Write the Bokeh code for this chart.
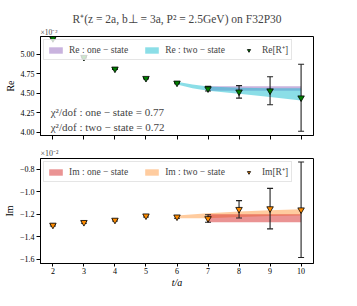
from bokeh.plotting import figure
from bokeh.layouts import column
from bokeh.models import (ColumnDataSource, Legend, LegendItem, Label, Title,
                          FixedTicker, Range1d, CustomJSTickFormatter)
from bokeh.embed import file_html
from bokeh.resources import INLINE

# ---------------- data (values in units of 1e-2) ----------------
t = [2, 3, 4, 5, 6, 7, 8, 9, 10]
re_val = [5.20, 4.96, 4.81, 4.69, 4.63, 4.556, 4.516, 4.53, 4.44]
re_err = [0.01, 0.008, 0.008, 0.008, 0.01, 0.03, 0.08, 0.18, 0.43]
im_val = [-1.296, -1.272, -1.252, -1.214, -1.223, -1.238, -1.156, -1.15, -1.16]
im_err = [0.008, 0.008, 0.008, 0.01, 0.012, 0.033, 0.077, 0.18, 0.425]

re_one_t = [7, 10]
re_one_lo = [4.53, 4.53]
re_one_hi = [4.587, 4.587]
re_two_t = [6, 6.5, 7, 8, 9, 10]
re_two_lo = [4.61, 4.563, 4.53, 4.49, 4.45, 4.405]
re_two_hi = [4.645, 4.61, 4.585, 4.568, 4.563, 4.562]

im_one_t = [7, 10]
im_one_lo = [-1.272, -1.272]
im_one_hi = [-1.20, -1.20]
im_two_t = [6, 7, 8, 9, 10]
im_two_lo = [-1.235, -1.235, -1.225, -1.215, -1.21]
im_two_hi = [-1.212, -1.19, -1.175, -1.165, -1.155]

x_ticks = [2, 3, 4, 5, 6, 7, 8, 9, 10]
re_ticks = [4.00, 4.25, 4.50, 4.75, 5.00]
im_ticks = [-1.6, -1.4, -1.2, -1.0, -0.8]

title_text = "R\u207a(z = 2a, b\u22a5 = 3a, P\u00b2 = 2.5GeV) on F32P30"
offset_text = "\u00d710\u207b\u00b2"
chi_one = "\u03c7\u00b2/dof : one \u2212 state = 0.77"
chi_two = "\u03c7\u00b2/dof : two \u2212 state = 0.72"

FONT = "Liberation Serif"


def style(p, yticks, fmt_digits, show_x_labels):
    p.grid.visible = False
    p.outline_line_color = "black"
    p.outline_line_alpha = 1
    for ax in (p.xaxis, p.yaxis):
        ax.major_tick_out = 4
        ax.major_tick_in = 0
        ax.minor_tick_out = 0
        ax.minor_tick_in = 0
        ax.axis_line_color = "black"
        ax.major_tick_line_color = "black"
        ax.major_label_text_font = FONT
        ax.major_label_text_font_size = "8px"
        ax.major_label_text_color = "black"
        ax.axis_label_text_font = FONT
        ax.axis_label_text_font_size = "10px"
        ax.axis_label_text_color = "black"
        ax.major_label_standoff = 2
    p.xaxis.ticker = FixedTicker(ticks=x_ticks)
    p.yaxis.ticker = FixedTicker(ticks=yticks)
    p.yaxis.formatter = CustomJSTickFormatter(
        code="return tick.toFixed(%d).replace('-', '\\u2212');" % fmt_digits)
    p.yaxis.axis_label_text_font_style = "normal"
    p.yaxis.axis_label_standoff = 2
    if not show_x_labels:
        p.xaxis.formatter = CustomJSTickFormatter(code="return '';")
        p.xaxis.major_label_standoff = 0


def draw_points(p, vals, errs, fill):
    lo = [v - e for v, e in zip(vals, errs)]
    hi = [v + e for v, e in zip(vals, errs)]
    src = ColumnDataSource(dict(t=t, v=vals, lo=lo, hi=hi))
    p.segment("t", "lo", "t", "hi", source=src, line_color="#222222", line_width=1.1)
    p.scatter("t", "lo", source=src, marker="dash", size=6, line_color="#222222", line_width=1.1)
    p.scatter("t", "hi", source=src, marker="dash", size=6, line_color="#222222", line_width=1.1)
    r = p.scatter("t", "v", source=src, marker="inverted_triangle", size=6.5,
                  fill_color=fill, line_color="black", line_width=0.8)
    return r


def make_legend(p, items):
    leg = Legend(items=items, location="top_left", orientation="horizontal",
                 label_text_font=FONT, label_text_font_size="9.5px",
                 glyph_width=17, glyph_height=8, label_height=9, label_standoff=5,
                 spacing=15, padding=3, margin=3,
                 background_fill_alpha=0.8, border_line_color="#cccccc")
    p.add_layout(leg)


# ---------------- top panel ----------------
p1 = figure(width=340, height=146,
            x_range=Range1d(1.6, 10.4), y_range=Range1d(3.956, 5.226),
            output_backend="svg", toolbar_location=None,
            min_border_left=37, min_border_right=27, min_border_top=0, min_border_bottom=11)
style(p1, re_ticks, 2, False)
p1.yaxis.axis_label = "Re"
# a blank first line pushes the title down towards the frame
p1.title.text = " \n" + title_text
p1.title.text_line_height = 0.9
p1.title.align = "center"
p1.title.offset = -5
p1.title.text_font = FONT
p1.title.text_font_size = "11.5px"
p1.title.text_font_style = "normal"
p1.title.standoff = 0
p1.add_layout(Title(text=offset_text, align="left", text_font=FONT, standoff=0,
                    text_font_size="7.5px", text_font_style="normal"), "above")

r_one = p1.varea(x=re_one_t, y1=re_one_lo, y2=re_one_hi, fill_color="#9467bd", fill_alpha=0.5)
r_two = p1.varea(x=re_two_t, y1=re_two_lo, y2=re_two_hi, fill_color="#17becf", fill_alpha=0.5)
r_pts = draw_points(p1, re_val, re_err, "green")
make_legend(p1, [LegendItem(label="Re : one \u2212 state", renderers=[r_one]),
                 LegendItem(label="Re : two \u2212 state", renderers=[r_two]),
                 LegendItem(label="Re[R\u207a]", renderers=[r_pts])])
p1.add_layout(Label(x=1.93, y=4.254, text=chi_one, text_font=FONT,
                    text_font_size="11px", text_baseline="middle"))
p1.add_layout(Label(x=1.93, y=4.063, text=chi_two, text_font=FONT,
                    text_font_size="11px", text_baseline="middle"))

# ---------------- bottom panel ----------------
p2 = figure(width=340, height=144,
            x_range=p1.x_range, y_range=Range1d(-1.638, -0.704),
            output_backend="svg", toolbar_location=None,
            min_border_left=37, min_border_right=27, min_border_top=11, min_border_bottom=26)
style(p2, im_ticks, 1, True)
p2.xaxis.major_tick_out = 3
p2.xaxis.major_label_standoff = 1
p2.yaxis.axis_label = "Im"
p2.xaxis.axis_label = "t/a"
p2.xaxis.axis_label_text_font_style = "italic"
p2.xaxis.axis_label_standoff = 0
p2.title.text = offset_text
p2.title.align = "left"
p2.title.text_font = FONT
p2.title.text_font_size = "8px"
p2.title.text_font_style = "normal"
p2.title.standoff = 1

q_two = p2.varea(x=im_two_t, y1=im_two_lo, y2=im_two_hi, fill_color="#ff7f0e", fill_alpha=0.4)
q_one = p2.varea(x=im_one_t, y1=im_one_lo, y2=im_one_hi, fill_color="#d62728", fill_alpha=0.5)
q_pts = draw_points(p2, im_val, im_err, "darkorange")
make_legend(p2, [LegendItem(label="Im : one \u2212 state", renderers=[q_one]),
                 LegendItem(label="Im : two \u2212 state", renderers=[q_two]),
                 LegendItem(label="Im[R\u207a]", renderers=[q_pts])])

layout = column(p1, p2, spacing=0)
open("out.html", "w").write(file_html(layout, INLINE))
